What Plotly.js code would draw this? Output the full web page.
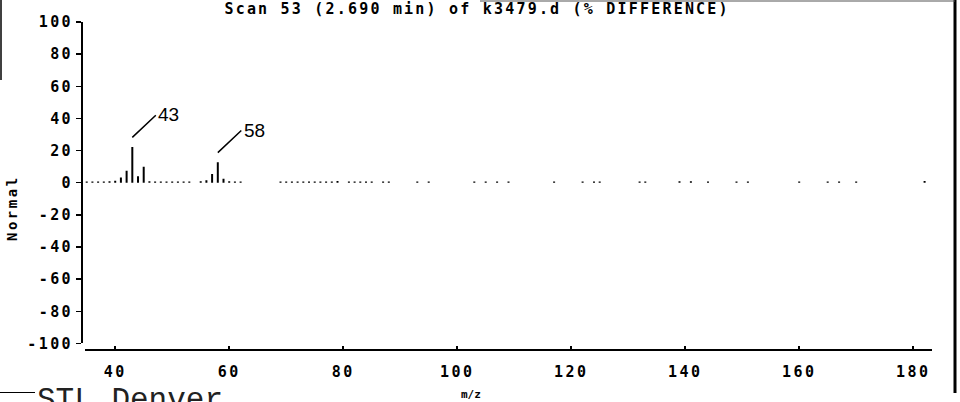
<!DOCTYPE html>
<html><head><meta charset="utf-8">
<script src="https://cdn.plot.ly/plotly-3.0.1.min.js"></script>
<style>
html,body{margin:0;padding:0;background:#fff;}
#chart{width:960px;height:402px;}
.xtick text,.ytick text{letter-spacing:2.4px;}
.gtitle{letter-spacing:2.2px;}
</style></head><body><div id="chart"></div>
<script>
// m/z values and % difference abundances
const mz = [35,36,37,38,39,40,41,42,43,44,45,46,47,48,49,50,51,52,53,55,56,57,58,59,60,61,62,
  69,70,71,72,73,74,75,76,77,78,79,81,82,83,84,85,87,88,93,95,
  103,105,107,109,117,122,124,125,132,133,139,141,144,149,151,160,165,167,170,182];
const abundance = [0.8,0.8,0.8,0.8,0.9,1.2,3.2,7.5,22.3,4.0,10.0,0.9,0.8,0.8,0.8,0.8,0.8,0.8,0.8,0.9,1.5,5.5,12.8,2.5,0.9,0.8,0.8,
  0.8,0.8,0.8,0.8,0.8,0.8,0.8,0.8,0.8,0.8,1.0,0.8,0.8,0.8,0.8,0.8,0.8,0.8,0.8,0.8,
  0.8,0.8,0.8,0.8,0.8,0.8,0.8,0.8,0.8,0.8,0.9,0.9,0.8,0.8,0.8,0.8,0.8,0.8,0.8,1.0];
const labeledMz = [43, 58];
const yTickVals = [100,80,60,40,20,0,-20,-40,-60,-80,-100];
const yTickText = ['100','80','60','40','20','0','-20','-40','-60','-80','-100'];
const xTickVals = [40,60,80,100,120,140,160,180];
const xTickText = ['40','60','80','100','120','140','160','180'];
const titleText = 'Scan 53 (2.690 min) of k3479.d (% DIFFERENCE)';
const yTitle = 'Normal';
const xTitle = 'm/z';
const footerText = 'STL Denver';

const plotterFont = {family:'DejaVu Sans Mono', size:15, color:'#000', weight:'bold'};

const annotations = [];
labeledMz.forEach(m => {
  const v = abundance[mz.indexOf(m)];
  annotations.push({x:m, y:v, xref:'x', yref:'y', text:' ', font:{size:1},
    showarrow:true, arrowhead:0, arrowwidth:1.5, arrowcolor:'#000',
    ax:25, ay:-23.5, yshift:9.5});
  annotations.push({x:m, y:v, xref:'x', yref:'y', text:String(m), showarrow:false,
    xanchor:'left', yanchor:'middle', xshift:24, yshift:32,
    font:{family:'Liberation Sans', size:19, color:'#000'}});
});
annotations.push({xref:'paper', yref:'paper', x:(471-82)/850, y:(350-386)/328,
  xanchor:'center', yanchor:'top', showarrow:false, text:xTitle,
  font:{family:'DejaVu Sans Mono', size:11, color:'#000', weight:'bold'}});
annotations.push({xref:'paper', yref:'paper', x:(12-82)/850, y:(350-208)/328,
  xanchor:'center', yanchor:'middle', showarrow:false, textangle:-90,
  text:'<span style="letter-spacing:2.5px">'+yTitle+'</span>',
  font:{family:'DejaVu Sans Mono', size:14, color:'#000', weight:'bold'}});
annotations.push({xref:'paper', yref:'paper', x:(35-82)/850, y:(350-381)/328,
  xanchor:'left', yanchor:'top', showarrow:false, text:footerText,
  font:{family:'Liberation Mono', size:31, color:'#222'}});

const shapes = [
  {type:'line', xref:'paper', yref:'paper', x0:(955-82)/850, x1:(955-82)/850, y0:(350-0)/328, y1:(350-393)/328, line:{color:'#000', width:3}},
  {type:'line', xref:'paper', yref:'paper', x0:(1-82)/850, x1:(1-82)/850, y0:(350-0)/328, y1:(350-80)/328, line:{color:'#000', width:1.5}},
  {type:'line', xref:'paper', yref:'paper', x0:(480-82)/850, x1:(955-82)/850, y0:(350-1)/328, y1:(350-1)/328, line:{color:'#555', width:1}},
  {type:'line', xref:'paper', yref:'paper', x0:(0-82)/850, x1:(35-82)/850, y0:(350-392.5)/328, y1:(350-392.5)/328, line:{color:'#000', width:1}}
];

const trace = {type:'bar', x:mz, y:abundance, width:0.35,
  marker:{color:'#000', line:{width:0}}, hoverinfo:'skip'};

const layout = {
  width:960, height:402,
  margin:{l:82, r:28, t:22, b:52},
  paper_bgcolor:'#fff', plot_bgcolor:'#fff',
  showlegend:false,
  title:{text:titleText, font:plotterFont, x:0.497, xref:'container', xanchor:'center',
    y:1, yref:'container', yanchor:'top', pad:{t:3}},
  xaxis:{domain:[3/850,1], range:[34.7,183.3], anchor:'free', position:0,
    showline:true, linecolor:'#000', linewidth:2, showgrid:false, zeroline:false,
    ticks:'inside', ticklen:3, tickwidth:1.5, tickcolor:'#000',
    tickvals:xTickVals, ticktext:xTickText, tickfont:plotterFont, ticklabelstandoff:8},
  yaxis:{domain:[0.02,1], range:[-100,100], anchor:'free', position:0,
    showline:true, linecolor:'#000', linewidth:2, showgrid:false, zeroline:false,
    ticks:'outside', ticklen:5, tickwidth:1.5, tickcolor:'#000',
    tickvals:yTickVals, ticktext:yTickText, tickfont:plotterFont},
  annotations:annotations,
  shapes:shapes
};

Plotly.newPlot('chart', [trace], layout, {staticPlot:true, displayModeBar:false});
</script></body></html>
